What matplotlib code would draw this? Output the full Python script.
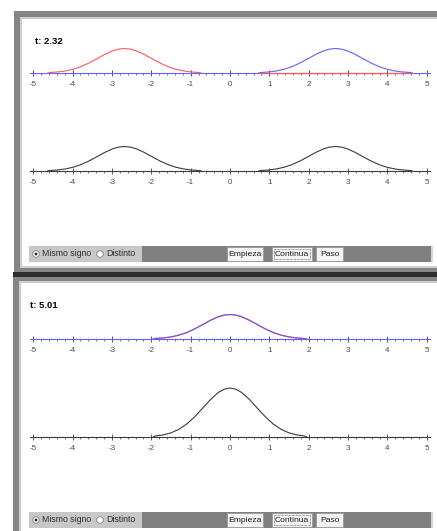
import numpy as np
import matplotlib
matplotlib.use("Agg")
import matplotlib.pyplot as plt
from matplotlib.patches import Rectangle, Ellipse
from matplotlib.ticker import FixedLocator, MultipleLocator

W, H = 437, 531

# ---------------- data ----------------
time_labels = ["t: 2.32", "t: 5.01"]
red_centers = [-2.68, 0.0]     # pulse travelling right
blue_centers = [2.68, 0.0]     # pulse travelling left
pulse_dx = [-1.95, -1.9, -1.7, -1.5, -1.3, -1.1, -0.9, -0.7, -0.5, -0.3, -0.15,
            0.0, 0.15, 0.3, 0.5, 0.7, 0.9, 1.1, 1.3, 1.5, 1.7, 1.9, 1.95]
pulse_h = [0.0, 0.02, 0.042, 0.084, 0.156, 0.264, 0.41, 0.583, 0.76, 0.906, 0.975,
           1.0, 0.975, 0.906, 0.76, 0.583, 0.41, 0.264, 0.156, 0.084, 0.042, 0.02, 0.0]
tick_values = [-5, -4, -3, -2, -1, 0, 1, 2, 3, 4, 5]
tick_labels = ["-5", "-4", "-3", "-2", "-1", "0", "1", "2", "3", "4", "5"]
option_labels = ["Mismo signo", "Distinto"]
button_labels = ["Empieza", "Continua", "Paso"]

# ---------------- style ----------------
RED = "#ff5a5a"
BLUE = "#6060ff"
DARK = "#3c3c3c"
AMP = 24.5          # px per unit amplitude
UI_FONT = ["Liberation Sans", "DejaVu Sans"]

fig = plt.figure(figsize=(W / 100, H / 100), dpi=100)
fig.patch.set_facecolor("white")


def rect(x, y, w, h, fc, z=-5, ec="none", lw=0.0, ls="-"):
    fig.add_artist(Rectangle((x / W, 1 - (y + h) / H), w / W, h / H,
                             transform=fig.transFigure, facecolor=fc,
                             edgecolor=ec, linewidth=lw, linestyle=ls, zorder=z))


def circle(cx, cy, r, fc, ec="none", z=2, lw=0.6):
    fig.add_artist(Ellipse((cx / W, 1 - cy / H), 2 * r / W, 2 * r / H,
                           transform=fig.transFigure, facecolor=fc,
                           edgecolor=ec, linewidth=lw, zorder=z))


def ftext(x, y, s, **kw):
    fig.text(x / W, 1 - y / H, s, **kw)


# ---------------- panel chrome ----------------
# top panel
rect(14, 11, 430, 261, "#858585", z=-9)
rect(20, 17, 424, 251, "#cdcdcd", z=-8)
rect(22, 19, 422, 247, "white", z=-7)
# separator
rect(13, 272, 430, 5, "#2e2e2e", z=-9)
# bottom panel
rect(13, 277, 430, 260, "#858585", z=-9)
rect(19, 281, 424, 260, "#cdcdcd", z=-8)
rect(21, 283, 422, 260, "white", z=-7)


def control_bar(y):
    rect(29, y, 403, 16, "#808080", z=-4)
    rect(431, y, 1.5, 16, "#d4d4d4", z=-4)
    rect(29, y, 113, 16, "#c8c8c8", z=-3)
    cy = y + 8
    circle(36, cy, 3.3, "white", ec="#7a7a7a")
    circle(36, cy, 1.4, "#202020", z=3)
    ftext(42, cy, option_labels[0], fontsize=6.3, family=UI_FONT,
          color="#303030", va="center", ha="left")
    circle(100, cy, 3.3, "white", ec="#7a7a7a")
    ftext(106, cy, option_labels[1], fontsize=6.3, family=UI_FONT,
          color="#303030", va="center", ha="left")
    bx = [(227, 36), (272, 40), (316, 27)]
    for (x0, w0), lab in zip(bx, button_labels):
        rect(x0, y + 1, w0, 14, "#f3f3f3", z=-2, ec="#9a9a9a", lw=0.6)
        ftext(x0 + w0 / 2, cy, lab, fontsize=6.1, family=UI_FONT,
              color="#202020", va="center", ha="center")
    # focus ring on "Continua"
    rect(274, y + 3, 36, 10, "none", z=-1, ec="#505050", lw=0.5, ls=(0, (1, 1)))


control_bar(246)
control_bar(512)


# ---------------- plotting axes ----------------
def make_ax(axis_y, spine_color):
    top = axis_y - 62
    bottom = axis_y + 22
    ax = fig.add_axes([30 / W, 1 - bottom / H, 400 / W, (bottom - top) / H])
    ax.set_xlim(-5.08, 5.08)
    ax.set_ylim(-22 / AMP, 62 / AMP)
    ax.patch.set_visible(False)
    for s in ["top", "left", "right"]:
        ax.spines[s].set_visible(False)
    ax.spines["bottom"].set_position(("data", 0))
    ax.spines["bottom"].set_color(spine_color)
    ax.spines["bottom"].set_linewidth(0.8)
    ax.set_yticks([])
    ax.xaxis.set_major_locator(FixedLocator(tick_values))
    ax.set_xticklabels(tick_labels)
    ax.xaxis.set_minor_locator(MultipleLocator(0.2))
    ax.tick_params(axis="x", which="major", direction="inout", length=4.0,
                   width=0.6, color=DARK, labelsize=5.8, labelcolor="#4a4a4a",
                   pad=4.0)
    ax.tick_params(axis="x", which="minor", direction="out", length=1.7,
                   width=0.5, color=DARK)
    for lab in ax.get_xticklabels():
        lab.set_family(UI_FONT)
    return ax


panel_axis_y = [(73, 171), (339, 437)]
time_pos = [(35, 42), (30, 306)]

dx = np.array(pulse_dx)
hh = np.array(pulse_h)

for i in range(2):
    y1, y2 = panel_axis_y[i]
    rc, bc = red_centers[i], blue_centers[i]

    # individual pulses
    ax1 = make_ax(y1, BLUE)
    if abs(rc - bc) > 1e-9:
        ax1.plot([bc + dx[0], bc + dx[-1]], [0, 0], color=RED, lw=0.9, zorder=3)
        ax1.plot(rc + dx, hh, color=RED, lw=0.8, zorder=4)
        ax1.plot(bc + dx, hh, color=BLUE, lw=0.8, zorder=4)
    else:
        ax1.plot(rc + dx, hh, color=RED, lw=0.9, zorder=4)
        ax1.plot(bc + dx, hh, color="#5050ff", lw=0.8, alpha=0.8, zorder=5)

    # superposition
    ax2 = make_ax(y2, DARK)
    if abs(rc - bc) > 1e-9:
        ax2.plot(rc + dx, hh, color="#3a3a3a", lw=0.8, zorder=4)
        ax2.plot(bc + dx, hh, color="#3a3a3a", lw=0.8, zorder=4)
    else:
        ax2.plot(rc + dx, hh + hh, color="#3a3a3a", lw=0.8, zorder=4)

    tx, ty = time_pos[i]
    ftext(tx, ty, time_labels[i], fontsize=6.8, fontweight="bold",
          family=UI_FONT, color="black", va="center", ha="left")

fig.savefig("out.png", dpi=100)
